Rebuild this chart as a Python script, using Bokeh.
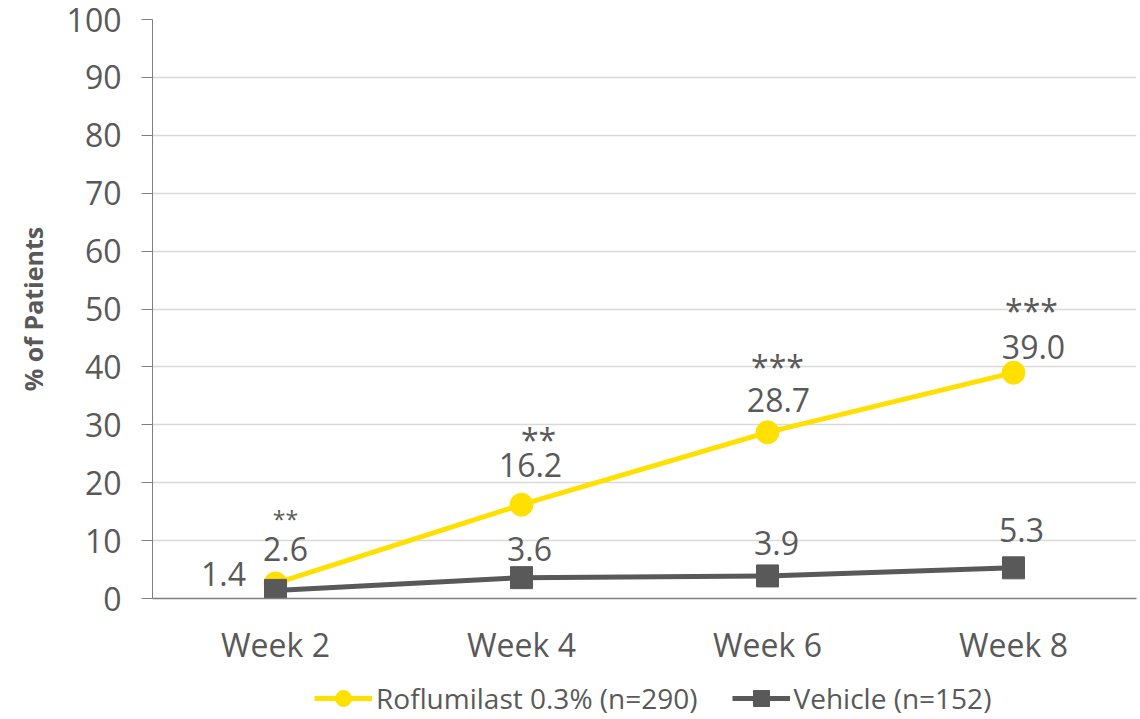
from bokeh.plotting import figure
from bokeh.layouts import column
from bokeh.models import (FactorRange, Range1d, SingleIntervalTicker, Legend, LegendItem,
                          ColumnDataSource)
from bokeh.core.properties import value
from bokeh.embed import file_html
from bokeh.resources import INLINE

# ---- data ----
weeks = ["Week 2", "Week 4", "Week 6", "Week 8"]
roflumilast = [2.6, 16.2, 28.7, 39.0]
vehicle = [1.4, 3.6, 3.9, 5.3]
significance = ["**", "**", "***", "***"]
series_names = ["Roflumilast 0.3% (n=290)", "Vehicle (n=152)"]

# ---- style ----
FONT = "Open Sans"
TXT = "#595959"
YEL = "#FFE000"
GRY = "#595959"
AXC = "#7F7F7F"

# label offsets in screen pixels (style only)
rof_dx = [10, 9, 11, 20]
rof_dy = [-34, -40, -32, -26]
veh_dx = [-52, 8, 9, 8]
veh_dy = [-16, -29, -33, -38]
sig_dx = [10, 17, 10, 18]
sig_dy = [-64, -65, -66, -62]
sig_size = ["23px", "32px", "32px", "32px"]

p = figure(width=1140, height=668, x_range=FactorRange(factors=weeks, range_padding=0),
           y_range=Range1d(0, 100), output_backend="svg", toolbar_location=None,
           min_border_left=152, min_border_right=4, min_border_top=19, min_border_bottom=69)
p.outline_line_color = None
p.background_fill_color = "white"
p.border_fill_color = "white"

# axes
p.yaxis.ticker = SingleIntervalTicker(interval=10)
p.yaxis.axis_line_color = AXC
p.yaxis.major_tick_line_color = AXC
p.yaxis.major_tick_out = 11
p.yaxis.major_tick_in = 0
p.yaxis.minor_tick_line_color = None
p.yaxis.major_label_standoff = 20
p.yaxis.major_label_text_font = FONT
p.yaxis.major_label_text_font_size = "32px"
p.yaxis.major_label_text_color = TXT
p.yaxis.axis_label = "% of Patients"
p.yaxis.axis_label_text_font = FONT
p.yaxis.axis_label_text_font_size = "25px"
p.yaxis.axis_label_text_font_style = "bold"
p.yaxis.axis_label_text_color = TXT
p.yaxis.axis_label_standoff = 14

p.xaxis.axis_line_color = AXC
p.xaxis.axis_line_width = 1.5
p.xaxis.major_tick_line_color = None
p.xaxis.minor_tick_line_color = None
p.xaxis.major_tick_out = 0
p.xaxis.major_label_standoff = 24
p.xaxis.major_label_text_font = FONT
p.xaxis.major_label_text_font_size = "32px"
p.xaxis.major_label_text_color = TXT

p.xgrid.grid_line_color = None
p.ygrid.grid_line_color = "#D9D9D9"
p.ygrid.grid_line_width = 1.5

src = ColumnDataSource(dict(week=weeks, rof=roflumilast, veh=vehicle, sig=significance,
                            rof_lbl=[f"{v:.1f}" for v in roflumilast],
                            veh_lbl=[f"{v:.1f}" for v in vehicle],
                            rof_dx=rof_dx, rof_dy=rof_dy, veh_dx=veh_dx, veh_dy=veh_dy,
                            sig_dx=sig_dx, sig_dy=sig_dy, sig_size=sig_size))

p.line("week", "rof", source=src, line_color=YEL, line_width=5)
p.scatter("week", "rof", source=src, marker="circle", size=23, fill_color=YEL, line_color=YEL)
p.line("week", "veh", source=src, line_color=GRY, line_width=5)
p.scatter("week", "veh", source=src, marker="square", size=22, fill_color=GRY, line_color=GRY)

p.text("week", "rof", text="rof_lbl", source=src, x_offset="rof_dx", y_offset="rof_dy",
       text_align="center", text_baseline="middle", text_font=value(FONT),
       text_font_size="32px", text_color=TXT)
p.text("week", "veh", text="veh_lbl", source=src, x_offset="veh_dx", y_offset="veh_dy",
       text_align="center", text_baseline="middle", text_font=value(FONT),
       text_font_size="32px", text_color=TXT)
p.text("week", "rof", text="sig", source=src, x_offset="sig_dx", y_offset="sig_dy",
       text_align="center", text_baseline="middle", text_font=value(FONT),
       text_font_size="sig_size", text_color=TXT)

# ---- legend strip below the chart (series re-drawn off-range, only their legend glyphs show) ----
lg = figure(width=1140, height=51, x_range=Range1d(0, 1), y_range=Range1d(500, 501),
            output_backend="svg", toolbar_location=None, x_axis_type=None, y_axis_type=None,
            min_border_left=152, min_border_right=4, min_border_top=0, min_border_bottom=0)
lg.outline_line_color = None
lg.grid.visible = False
idx = list(range(len(weeks)))
l1l = lg.line(x=idx, y=roflumilast, line_color=YEL, line_width=5)
l1s = lg.scatter(x=idx, y=roflumilast, marker="circle", fill_color=YEL, line_color=YEL)
l2l = lg.line(x=idx, y=vehicle, line_color=GRY, line_width=5)
l2s = lg.scatter(x=idx, y=vehicle, marker="square", fill_color=GRY, line_color=GRY)

legend = Legend(items=[LegendItem(label=series_names[0], renderers=[l1l, l1s]),
                       LegendItem(label=series_names[1], renderers=[l2l, l2s])],
                orientation="horizontal", location=(162, 1),
                glyph_width=58, glyph_height=40, label_standoff=4, spacing=34,
                padding=0, margin=0, border_line_color=None, background_fill_alpha=0,
                label_text_font=FONT, label_text_font_size="28px", label_text_color=TXT)
lg.add_layout(legend, "center")

layout = column(p, lg, spacing=0)
open("out.html", "w").write(file_html(layout, INLINE))
